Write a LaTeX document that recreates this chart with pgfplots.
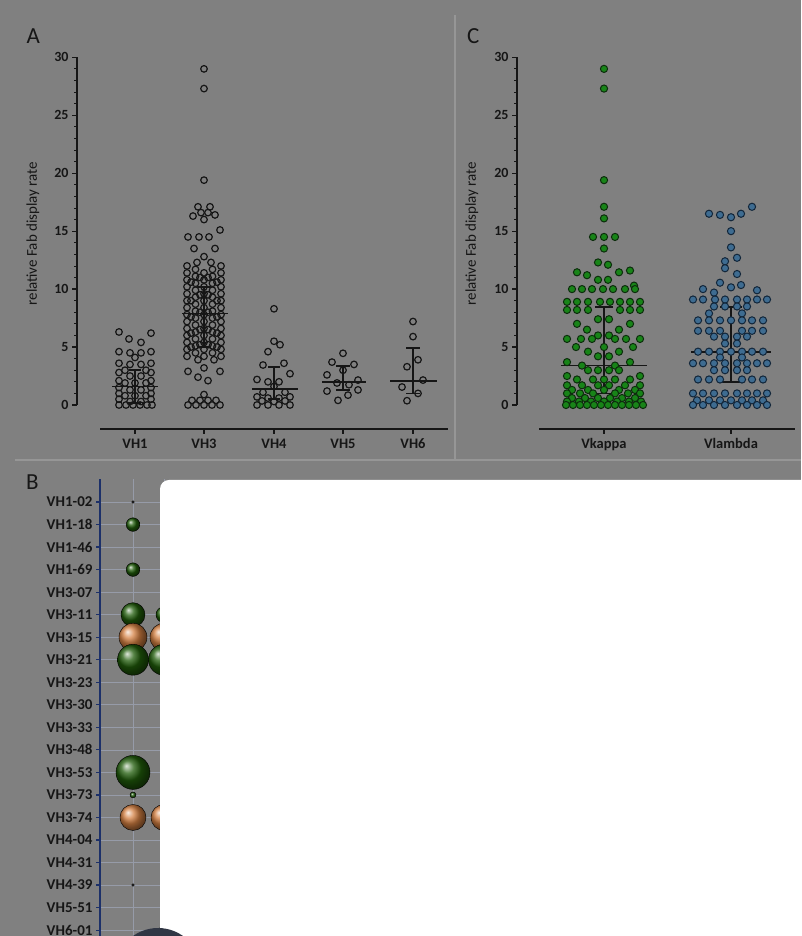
\documentclass[border=0pt]{standalone}
\usepackage{pgfplots}
\pgfplotsset{compat=1.18}
\usepackage{fontspec}
\setmainfont{Carlito}
\definecolor{bg}{RGB}{128,128,128}
\definecolor{txt}{RGB}{22,22,22}
\definecolor{sepc}{RGB}{150,150,150}
\definecolor{gfill}{RGB}{24,132,24}
\definecolor{gdraw}{RGB}{12,45,12}
\definecolor{bfill}{RGB}{62,108,145}
\definecolor{bdraw}{RGB}{18,38,58}
\definecolor{bgreen}{RGB}{32,92,10}
\definecolor{borange}{RGB}{212,128,66}
\definecolor{bluec}{RGB}{28,48,105}
\definecolor{gridc}{RGB}{150,155,168}
\definecolor{darkc}{RGB}{48,54,68}
\newcommand\seg[4]{\addplot[txt, line width=1.8pt, forget plot] coordinates {(#1,#2)(#3,#4)};}
\newcommand\bub[4]{\addplot[only marks, mark=ball, mark size=#3pt, mark options={ball color=#4}, forget plot] coordinates {(#1,#2)};}
\pgfplotsset{
  swarm/.style={scale only axis, clip=false, anchor=south west,
    ymin=0, ymax=30, height=347.7pt,
    axis y line*=left, axis x line*=bottom, axis x line shift=24pt,
    x axis line style={draw=none},
    y axis line style={line width=1.8pt, draw=txt},
    ytick={0,5,...,30}, minor y tick num=4,
    tick align=outside, major tick length=5pt, minor tick length=3pt,
    major tick style={draw=txt, line width=1.2pt},
    minor tick style={draw=txt, line width=0.8pt},
    yticklabel style={font=\bfseries\fontsize{14}{14}\selectfont, text=txt},
    xticklabel style={font=\bfseries\fontsize{14.5}{14.5}\selectfont, text=txt, anchor=north, text height=10pt, text depth=2pt, yshift=-1pt},
    /pgf/number format/assume math mode=true,
    ylabel={relative Fab display rate},
    ylabel style={font=\fontsize{15}{15}\selectfont, text=txt, anchor=center},
  }
}
\begin{document}
\begin{tikzpicture}[x=1pt,y=1pt]
\useasboundingbox (0,0) rectangle (801,936);
\clip (0,0) rectangle (801,936);
\fill[bg] (0,0) rectangle (801,936);
\draw[sepc, line width=1.3pt] (455,921) -- (455,476);
\draw[sepc, line width=1.3pt] (15,476) -- (801,476);
\node[text=txt, font=\fontsize{23}{23}\selectfont] at (33.3,900.2) {A};
\node[text=txt, font=\fontsize{23}{23}\selectfont] at (473.3,900.2) {C};
\node[text=txt, font=\fontsize{23}{23}\selectfont] at (32.5,454) {B};

% ---------------- Panel A ----------------
\begin{axis}[swarm, at={(77pt,531pt)}, xmin=77, xmax=450, width=373pt,
  xtick={135,204,274,343,413}, xticklabels={VH1,VH3,VH4,VH5,VH6},
  ylabel style={at={(rel axis cs:-0.118,0.493)}}]
\addplot[only marks, mark=o, mark size=3.3pt, mark options={line width=1.2pt, draw=txt}] coordinates {
% VH1
(119,6.3)(151,6.2)(129,5.7)(141,5.4)
(119,4.6)(151,4.6)(130,4.5)(141,4.5)(135,4.1)
(119,3.6)(151,3.6)(130,3.5)(141,3.5)(125,3.0)(146,3.0)
(119,2.8)(151,2.8)(130,2.5)(141,2.5)
(119,2.1)(151,2.1)(125,1.9)(135,1.9)(146,1.9)
(119,1.5)(151,1.5)(130,1.3)(141,1.3)
(119,1.0)(151,1.0)(125,0.8)(135,0.8)(146,0.8)
(119,0.5)(151,0.5)(130,0.3)(141,0.3)
(119,0)(126,0)(133,0)(140,0)(147,0)(152,0)
% VH3
(204,29.0)(204,27.3)(204,19.4)
(198,17.1)(210,17.1)(193,16.3)(201,16.6)(208,16.6)(215,16.4)(204,16.0)
(220,15.1)(188,14.5)(199,14.5)(209,14.5)(194,13.5)(215,13.5)
(204,12.8)(197,12.3)(211,12.3)
(187,12.0)(187,11.4)(187,10.8)(187,10.2)(187,9.6)(187,9.0)(187,8.4)(187,7.8)(187,7.2)(187,6.6)(187,6.0)(187,5.4)(187,4.8)(187,4.2)
(221,12.0)(221,11.4)(221,10.8)(221,10.2)(221,9.6)(221,9.0)(221,8.4)(221,7.8)(221,7.2)(221,6.6)(221,6.0)(221,5.4)(221,4.8)(221,4.2)
(195.5,11.7)(195.5,11.1)(195.5,10.5)(195.5,9.9)(195.5,9.3)(195.5,8.7)(195.5,8.1)(195.5,7.5)(195.5,6.9)(195.5,6.3)(195.5,5.7)(195.5,5.1)(195.5,4.5)
(212.5,11.7)(212.5,11.1)(212.5,10.5)(212.5,9.9)(212.5,9.3)(212.5,8.7)(212.5,8.1)(212.5,7.5)(212.5,6.9)(212.5,6.3)(212.5,5.7)(212.5,5.1)(212.5,4.5)
(204,11.4)(204,10.8)(204,10.2)(204,9.6)(204,9.0)(204,8.4)(204,7.8)(204,7.2)(204,6.6)(204,6.0)(204,5.4)(204,4.8)(204,4.2)
(191,10.6)(191,9.0)(191,7.6)(191,6.2)(191,5.0)(217,10.6)(217,9.0)(217,7.6)(217,6.2)(217,5.0)
(200,11.0)(200,9.5)(200,8.0)(200,6.5)(200,5.2)(208,11.0)(208,9.5)(208,8.0)(208,6.5)(208,5.2)
(198,3.9)(214,3.9)(188,2.9)(204,3.2)(220,2.9)(198,2.4)(208,2.1)
(204,0.9)(192,0.4)(200,0.4)(208,0.4)(216,0.4)(188,0)(196,0)(204,0)(212,0)(220,0)
% VH4
(274,8.3)(274,5.5)(280,5.2)(268,4.6)(263,3.45)(284,3.6)(290,2.7)(257,2.2)(268,2.0)(279,2.0)(274,1.6)
(263,1.1)(285,1.1)(290,0.7)(257,0.7)(268,0.6)(279,0.6)(262,0.35)(274,0.3)(285,0.35)
(257,0)(268,0)(279,0)(290,0)
% VH5
(343,4.46)(332,3.7)(354,3.5)(327,2.6)(343,3.0)(358,2.15)(337,1.9)(349,1.75)(327,1.2)(358,1.3)(348,0.85)(338,0.4)
% VH6
(413,7.2)(413,5.9)(418,3.9)(407,3.3)(423,2.15)(402,1.55)(418,1.0)(407,0.37)
};
\seg{112}{1.6}{158}{1.6}\seg{135}{0.2}{135}{3.0}\seg{129}{3.0}{141}{3.0}\seg{129}{0.2}{141}{0.2}
\seg{182}{7.9}{228}{7.9}\seg{204}{5.0}{204}{10.2}\seg{197}{10.2}{211}{10.2}\seg{197}{5.0}{211}{5.0}
\seg{252}{1.35}{298}{1.35}\seg{274}{0.5}{274}{3.3}\seg{268}{3.3}{280}{3.3}\seg{268}{0.5}{280}{0.5}
\seg{322}{2.0}{366}{2.0}\seg{343}{1.3}{343}{3.35}\seg{336}{3.35}{350}{3.35}\seg{336}{1.3}{350}{1.3}
\seg{390}{2.1}{437}{2.1}\seg{413}{1.0}{413}{4.9}\seg{406}{4.9}{420}{4.9}\seg{406}{1.0}{420}{1.0}
\draw[txt, line width=2pt] (axis cs:100,-2.07) -- (axis cs:448,-2.07);
\end{axis}

% ---------------- Panel C ----------------
\begin{axis}[swarm, at={(517pt,531pt)}, xmin=517, xmax=797, width=280pt,
  xtick={604,731}, xticklabels={Vkappa,Vlambda},
  ylabel style={at={(rel axis cs:-0.161,0.493)}}]
\addplot[only marks, mark=*, mark size=3.6pt, mark options={line width=1pt, draw=gdraw, fill=gfill}] coordinates {
(604,29.0)(604,27.3)(604,19.4)(604,17.1)(604,16.1)(593,14.5)(604,14.5)(615,14.5)(604,13.5)
(598,12.3)(608,12.1)
(577,11.45)(587,11.2)(619,11.45)(630,11.6)(598,10.8)(608,10.8)(634,10.3)
(572,10.0)(582,10.0)(592,10.0)(603,10.0)(613,10.0)(625,10.0)(635,10.0)
(567,8.9)(577,8.9)(588,8.9)(600,8.9)(610,8.9)(620,8.9)(630,8.9)(640,8.9)
(567,8.2)(577,8.2)(588,8.2)(620,8.2)(630,8.2)(640,8.2)
(598,7.4)(609,7.4)(577,7.0)(630,7.0)(587,6.5)(619,6.5)(598,6.0)(609,6.0)
(567,5.7)(581,5.7)(592,5.7)(615,5.7)(626,5.7)(640,5.7)
(576,5.0)(604,5.0)(633,5.0)(588,4.6)(619,4.6)(598,4.2)(609,4.2)
(567,3.7)(630,3.7)(582,3.4)(615,3.4)
(588,3.0)(598,3.0)(609,3.0)(619,3.0)(567,2.5)(640,2.5)
(577,2.2)(593,2.2)(604,2.2)(615,2.2)(630,2.2)
(567,1.7)(582,1.7)(598,1.7)(609,1.7)(625,1.7)(640,1.7)
(572,1.3)(588,1.3)(604,1.3)(619,1.3)(635,1.3)
(567,1.0)(580,1.0)(593,1.0)(615,1.0)(628,1.0)(640,1.0)
(572,0.6)(585,0.6)(598,0.6)(610,0.6)(622,0.6)(635,0.6)
(567,0.3)(579,0.3)(591,0.3)(604,0.3)(617,0.3)(629,0.3)(641,0.3)
(566,0)(573,0)(580,0)(587,0)(594,0)(601,0)(608,0)(615,0)(622,0)(629,0)(636,0)(643,0)
};
\addplot[only marks, mark=*, mark size=3.6pt, mark options={line width=1pt, draw=bdraw, fill=bfill}] coordinates {
(752,17.1)(709,16.5)(720,16.4)(731,16.2)(741,16.5)
(731,15.0)(731,13.6)(737,12.7)(725,12.4)(725,11.8)(737,11.3)
(720,10.55)(703,10.0)(731,10.15)(741,10.35)(714,9.7)(757,9.9)
(693,9.1)(703,9.1)(715,9.1)(725,9.1)(737,9.1)(747,9.1)(757,9.1)(767,9.1)
(714,8.5)(725,8.5)(737,8.5)(747,8.5)(709,7.9)(742,7.9)
(698,7.3)(709,7.3)(720,7.3)(731,7.3)(742,7.3)(752,7.3)(763,7.3)
(698,6.4)(709,6.4)(720,6.4)(742,6.4)(752,6.4)(763,6.4)
(714,5.9)(725,5.9)(737,5.9)(747,5.9)(725,5.3)(737,5.3)
(698,4.6)(709,4.6)(720,4.6)(731,4.6)(742,4.6)(752,4.6)(763,4.6)
(720,4.1)(742,4.1)
(693,3.6)(703,3.6)(714,3.6)(725,3.6)(737,3.6)(747,3.6)(757,3.6)(767,3.6)
(714,3.0)(725,3.0)(737,3.0)(747,3.0)
(698,2.2)(709,2.2)(720,2.2)(742,2.2)(752,2.2)(763,2.2)
(693,1.0)(703,1.0)(714,1.0)(725,1.0)(737,1.0)(747,1.0)(757,1.0)(767,1.0)
(697,0.4)(709,0.4)(720,0.4)(731,0.4)(742,0.4)(752,0.4)(763,0.4)
(693,0)(703,0)(714,0)(725,0)(737,0)(747,0)(757,0)(767,0)
};
\seg{561}{3.4}{647}{3.4}\seg{604}{1.0}{604}{8.45}\seg{595}{8.45}{613}{8.45}\seg{595}{1.0}{613}{1.0}
\seg{691}{4.6}{771}{4.6}\seg{731}{1.95}{731}{8.45}\seg{720}{8.45}{742}{8.45}\seg{720}{1.95}{742}{1.95}
\draw[txt, line width=2pt] (axis cs:539,-2.07) -- (axis cs:795,-2.07);
\end{axis}

% ---------------- Panel B ----------------
\begin{axis}[scale only axis, clip=false, at={(100pt,456.5pt)}, anchor=north west,
  width=701pt, height=456.7pt, xmin=100, xmax=801, ymin=-1, ymax=19.27, y dir=reverse,
  axis y line*=left, axis x line=none,
  ytick={0,...,19},
  yticklabels={VH1-02,VH1-18,VH1-46,VH1-69,VH3-07,VH3-11,VH3-15,VH3-21,VH3-23,VH3-30,VH3-33,VH3-48,VH3-53,VH3-73,VH3-74,VH4-04,VH4-31,VH4-39,VH5-51,VH6-01},
  ymajorgrids, grid style={draw=gridc, line width=0.7pt},
  y axis line style={draw=bluec, line width=2pt},
  tick align=outside, major tick length=4pt,
  major tick style={draw=bluec, line width=1.2pt},
  yticklabel style={font=\bfseries\fontsize{15}{15}\selectfont, text=txt}]
\draw[gridc, line width=0.7pt] (axis cs:133,-1) -- (axis cs:133,19.27);
\draw[gridc, line width=0.7pt] (axis cs:164,-1) -- (axis cs:164,19.27);
\addplot[only marks, mark=*, mark size=1.4pt, txt, forget plot] coordinates {(133,0)(133,17)};
\bub{133}{1}{6.8}{bgreen}
\bub{133}{3}{6.8}{bgreen}
\bub{133}{5}{12}{bgreen}
\bub{164}{5}{8}{bgreen}
\bub{133}{6}{14}{borange}
\bub{164}{6}{14}{borange}
\bub{133}{7}{15.5}{bgreen}
\bub{164}{7}{15.5}{bgreen}
\bub{133}{12}{17}{bgreen}
\bub{133}{13}{3}{bgreen}
\bub{133}{14}{13}{borange}
\bub{164}{14}{13}{borange}
\bub{164}{19}{5}{bgreen}
\end{axis}

\fill[white, rounded corners=9pt] (160,-30) rectangle (850,456);
\fill[darkc] (158,-35) circle (43);
\end{tikzpicture}
\end{document}
